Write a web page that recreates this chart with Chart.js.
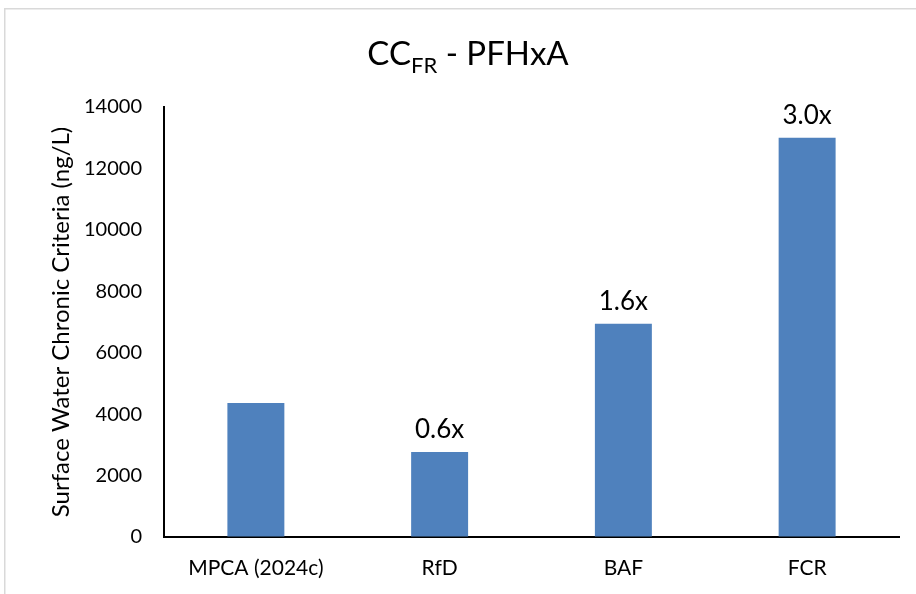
<!DOCTYPE html>
<html><head><meta charset="utf-8">
<script src="https://cdn.jsdelivr.net/npm/chart.js@4/dist/chart.umd.min.js"></script>
<style>html,body{margin:0;padding:0;background:#fff;overflow:hidden}canvas{display:block}</style>
</head><body>
<canvas id="c" width="916" height="594"></canvas>
<script>
const categories = ['MPCA (2024c)', 'RfD', 'BAF', 'FCR'];
const criteriaValues = [4360, 2770, 6940, 13000];
const ratioLabels = ['', '0.6x', '1.6x', '3.0x'];
const yTicks = [0, 2000, 4000, 6000, 8000, 10000, 12000, 14000];
const titleMain = 'CC';
const titleSub = 'FR';
const titleRest = ' - PFHxA';
const yAxisTitle = 'Surface Water Chronic Criteria (ng/L)';

const FONT = 'Lato';

const framePlugin = {
  id: 'frame',
  beforeDraw(chart) {
    const ctx = chart.ctx;
    ctx.save();
    ctx.fillStyle = '#fff';
    ctx.fillRect(0, 0, chart.width, chart.height);
    ctx.strokeStyle = '#d9d9d9';
    ctx.lineWidth = 1.5;
    ctx.strokeRect(4.75, 8.75, 2000, 2000);
    ctx.restore();
  }
};

const titlePlugin = {
  id: 'subTitle',
  afterDraw(chart) {
    const ctx = chart.ctx;
    ctx.save();
    ctx.fillStyle = '#000';
    ctx.textBaseline = 'alphabetic';
    ctx.textAlign = 'left';
    const mainFont = '33px ' + FONT, subFont = '22px ' + FONT;
    ctx.font = mainFont;
    const w1 = ctx.measureText(titleMain).width;
    const w3 = ctx.measureText(titleRest).width;
    ctx.font = subFont;
    const w2 = ctx.measureText(titleSub).width;
    const total = w1 + w2 + w3;
    let x = 468 - total / 2;
    const base = 65;
    ctx.font = mainFont; ctx.fillText(titleMain, x, base); x += w1;
    ctx.font = subFont; ctx.fillText(titleSub, x, base + 8); x += w2;
    ctx.font = mainFont; ctx.fillText(titleRest, x, base);
    ctx.restore();
  }
};

const barLabelPlugin = {
  id: 'barLabels',
  afterDatasetsDraw(chart) {
    const ctx = chart.ctx;
    const meta = chart.getDatasetMeta(0);
    ctx.save();
    ctx.fillStyle = '#000';
    ctx.font = '26px ' + FONT;
    ctx.textAlign = 'center';
    ctx.textBaseline = 'alphabetic';
    meta.data.forEach((bar, i) => {
      const t = ratioLabels[i];
      if (t) ctx.fillText(t, bar.x, bar.y - 14);
    });
    ctx.restore();
  }
};

function draw() {
  new Chart(document.getElementById('c'), {
    type: 'bar',
    data: {
      labels: categories,
      datasets: [{
        data: criteriaValues,
        backgroundColor: '#4F81BD',
        borderWidth: 0,
        barPercentage: 0.31,
        categoryPercentage: 1
      }]
    },
    options: {
      responsive: false,
      animation: false,
      devicePixelRatio: 1,
      layout: { padding: { left: 0, right: 17, top: 107, bottom: 0 } },
      plugins: { legend: { display: false }, tooltip: { enabled: false }, title: { display: false } },
      scales: {
        x: {
          grid: { display: true, color: 'rgba(0,0,0,0)', drawTicks: false },
          border: { display: true, color: '#000', width: 2 },
          ticks: { color: '#000', font: { family: FONT, size: 21 }, padding: 19, maxRotation: 0 },
          afterFit(scale) { scale.height = 57; }
        },
        y: {
          min: 0, max: 14000,
          grid: { display: true, color: 'rgba(0,0,0,0)', drawTicks: false },
          border: { display: true, color: '#000', width: 2 },
          afterBuildTicks(scale) { scale.ticks = yTicks.map(v => ({ value: v })); },
          ticks: { color: '#000', font: { family: FONT, size: 20 }, padding: 22, callback: v => String(v) },
          title: { display: true, text: yAxisTitle, color: '#000', font: { family: FONT, size: 24 }, padding: { top: 47, bottom: 0 } },
          afterFit(scale) { scale.width = 164; }
        }
      }
    },
    plugins: [framePlugin, titlePlugin, barLabelPlugin]
  });
}

Promise.all([
  document.fonts.load('20px Lato'),
  document.fonts.load('30px Lato')
]).then(draw, draw);
</script>
</body></html>
